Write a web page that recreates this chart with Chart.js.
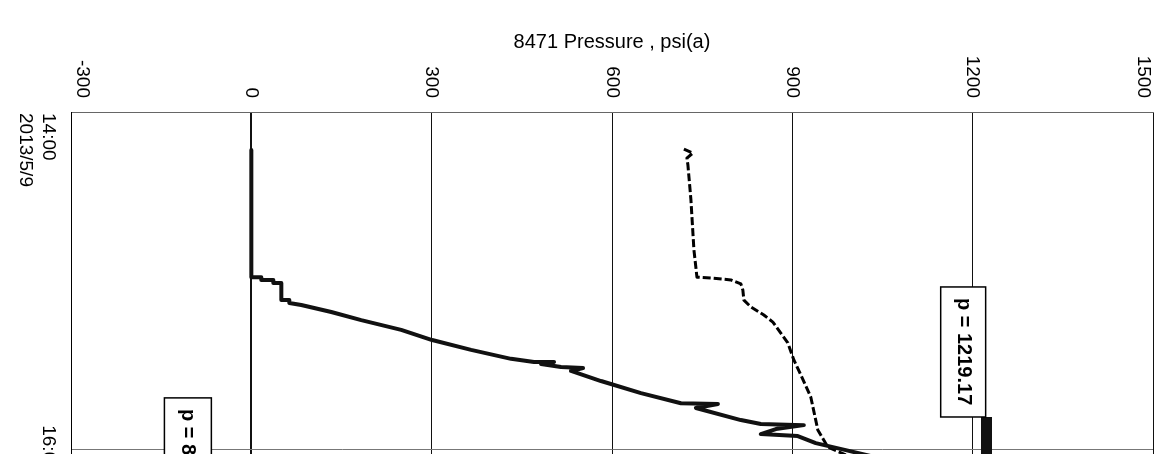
<!DOCTYPE html>
<html>
<head>
<meta charset="utf-8">
<script src="https://cdn.jsdelivr.net/npm/chart.js@4.4.1/dist/chart.umd.min.js"></script>
<style>
html,body{margin:0;padding:0;background:#fff;overflow:hidden}
#wrap{width:1162px;height:454px;position:relative}
</style>
</head>
<body>
<div id="wrap"><canvas id="c" width="1162" height="454"></canvas></div>
<script>
// ---- data ----
const axisTitle = "8471 Pressure , psi(a)";
const pressureTicks = [-300, 0, 300, 600, 900, 1200, 1500];
const timeTicks = [0, 120];               // minutes after 14:00
const timeLabels = [["14:00", "2013/5/9"], ["16:00"]];

// series 1 : stepped pressure rise (psi vs minutes after 14:00)
const s1Pressure = [0, 0, 16.6, 16.6, 36.6, 36.6, 49.9, 49.9, 63.2, 63.2, 83.1, 133.0, 182.8, 249.3, 300.8, 365.6, 432.1, 470.3, 503.6, 482.0, 515.2, 551.8, 531.8, 581.7, 648.2, 714.7, 776.2, 739.6, 814.4, 847.6, 919.1, 872.6, 847.6, 909.1, 939.0, 988.9, 1030.4];
const s1Minutes  = [13.5, 58.8, 58.8, 59.8, 59.8, 60.9, 60.9, 66.9, 66.9, 68.0, 68.7, 71.2, 74.1, 77.6, 81.2, 84.7, 87.9, 89.0, 89.0, 89.7, 90.8, 91.2, 92.2, 95.8, 100.1, 103.7, 104.0, 105.4, 109.7, 111.1, 111.5, 112.9, 114.7, 115.4, 117.9, 120.4, 122.5];

// series 2 : dashed curve
const s2Pressure = [719.6, 734.6, 724.6, 726.3, 731.3, 736.3, 741.3, 764.5, 797.8, 814.4, 817.7, 819.4, 831.0, 852.6, 867.6, 892.5, 902.5, 914.1, 930.7, 942.4, 959.0, 988.9];
const s2Minutes  = [13.2, 14.6, 16.4, 18.9, 31.3, 49.1, 58.8, 59.1, 59.8, 61.2, 63.4, 67.0, 69.4, 72.3, 74.8, 82.2, 88.3, 93.6, 101.5, 113.2, 119.3, 122.1];

// series 3 : plateau near 1219 psi
const s3Pressure = [1223, 1223];
const s3Minutes  = [108.6, 123.0];

// annotation labels
const labelTexts = ["p = 1219.17", "p = 8"];
const labelBoxes = [
  {p0: 1146.8, p1: 1221.6, t0: 62.3, t1: 108.6},
  {p0: -144.6, p1: -66.5, t0: 101.8, t1: 148.0}
];

const FONT = "'Liberation Sans', Arial, sans-serif";
const toXY = (ps, ts) => ps.map((p, i) => ({x: p, y: ts[i]}));

const overlay = {
  id: 'overlay',
  afterDraw(chart) {
    const {ctx, chartArea: a, scales: {x, y}} = chart;
    ctx.save();
    ctx.fillStyle = '#000';
    ctx.font = `20px ${FONT}`;
    ctx.textAlign = 'center';
    ctx.textBaseline = 'middle';
    ctx.fillText(axisTitle, (a.left + a.right) / 2, 42);
    ctx.font = `19px ${FONT}`;
    pressureTicks.forEach(v => {
      let px = x.getPixelForValue(v);
      px = Math.min(Math.max(px, a.left + 11), a.right - 10);
      ctx.save();
      ctx.translate(px, a.top - 14);
      ctx.rotate(Math.PI / 2);
      ctx.textAlign = 'right';
      ctx.textBaseline = 'middle';
      ctx.fillText(String(v), 0, 0);
      ctx.restore();
    });
    timeTicks.forEach((t, i) => {
      const py = y.getPixelForValue(t);
      timeLabels[i].forEach((line, j) => {
        const w = ctx.measureText(line).width;
        const lx = a.left - 23 - 23 * j;
        ctx.save();
        if (py - w / 2 < a.top) {
          ctx.translate(lx, a.top + 1);
          ctx.rotate(Math.PI / 2);
          ctx.textAlign = 'left';
        } else {
          ctx.translate(lx, py);
          ctx.rotate(Math.PI / 2);
          ctx.textAlign = 'center';
        }
        ctx.textBaseline = 'middle';
        ctx.fillText(line, 0, 0);
        ctx.restore();
      });
    });
    labelBoxes.forEach((b, i) => {
      const l = x.getPixelForValue(b.p0), r = x.getPixelForValue(b.p1);
      const t = y.getPixelForValue(b.t0), btm = y.getPixelForValue(b.t1);
      ctx.fillStyle = '#fff';
      ctx.fillRect(l, t, r - l, btm - t);
      ctx.strokeStyle = '#000';
      ctx.lineWidth = 1.5;
      ctx.strokeRect(l, t, r - l, btm - t);
      ctx.fillStyle = '#000';
      ctx.font = `bold 20px ${FONT}`;
      ctx.save();
      ctx.translate((l + r) / 2, t + 11);
      ctx.rotate(Math.PI / 2);
      ctx.textAlign = 'left';
      ctx.textBaseline = 'middle';
      ctx.fillText(labelTexts[i], 0, 0);
      ctx.restore();
    });
    ctx.restore();
  }
};

new Chart(document.getElementById('c'), {
  type: 'line',
  data: {
    datasets: [
      {data: toXY(s1Pressure, s1Minutes), borderColor: '#111', borderWidth: 4, pointRadius: 0, tension: 0, fill: false, borderJoinStyle: 'round'},
      {data: toXY(s1Pressure, s1Minutes), borderColor: '#9a9a9a', borderWidth: 1.2, pointRadius: 0, tension: 0, fill: false, borderJoinStyle: 'round'},
      {data: toXY(s2Pressure, s2Minutes), borderColor: '#000', borderWidth: 3, borderDash: [8, 3], pointRadius: 0, tension: 0, fill: false, borderJoinStyle: 'round'},
      {data: toXY(s3Pressure, s3Minutes), borderColor: '#111', borderWidth: 11, pointRadius: 0, tension: 0, fill: false},
      {data: toXY(s3Pressure, s3Minutes), borderColor: '#8a8a8a', borderWidth: 4, borderDash: [2, 2], pointRadius: 0, tension: 0, fill: false}
    ]
  },
  options: {
    responsive: false,
    animation: false,
    events: [],
    layout: {padding: {left: 71, right: 9, top: 112, bottom: 0}},
    plugins: {legend: {display: false}, tooltip: {enabled: false}, title: {display: false}},
    scales: {
      x: {
        type: 'linear', position: 'top', min: -300, max: 1500,
        ticks: {stepSize: 300, display: false},
        grid: {color: '#111', lineWidth: c => (c.tick && c.tick.value === 0 ? 2 : 1), drawTicks: false},
        border: {color: '#666', width: 1},
        afterFit: s => { s.height = 0; }
      },
      y: {
        type: 'linear', position: 'left', reverse: true, min: 0, max: 121.78,
        ticks: {display: false},
        afterBuildTicks: s => { s.ticks = timeTicks.map(v => ({value: v})); },
        grid: {color: '#777', lineWidth: 1, drawTicks: false},
        border: {color: '#000', width: 1},
        afterFit: s => { s.width = 0; }
      }
    }
  },
  plugins: [overlay]
});
</script>
</body>
</html>
